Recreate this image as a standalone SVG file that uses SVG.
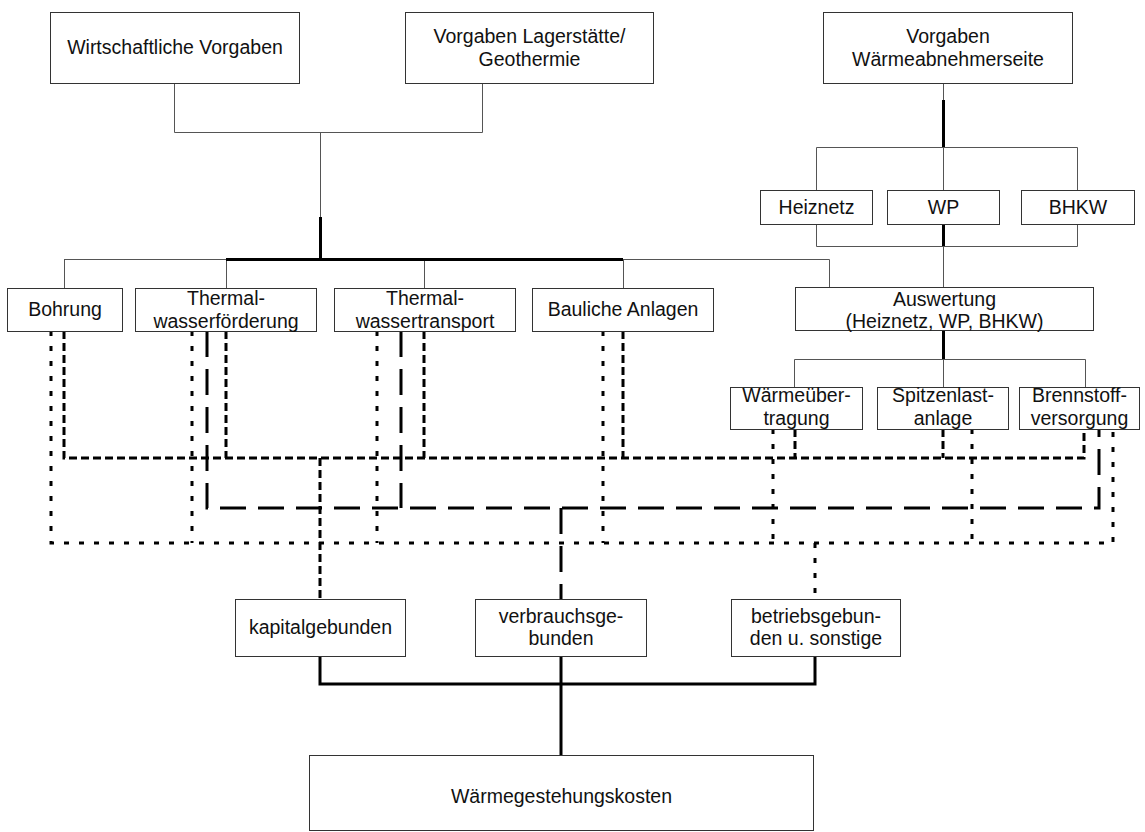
<svg xmlns="http://www.w3.org/2000/svg" width="1145" height="832" viewBox="0 0 1145 832">
<style>
.box{fill:#fff;stroke:#333;stroke-width:1}
text{font-family:"Liberation Sans",Arial,sans-serif;font-size:19.5px;fill:#111;text-anchor:middle}
.tn{fill:none;stroke:#555;stroke-width:1}
.tk{fill:none;stroke:#000;stroke-width:3}
.kd{fill:none;stroke:#000;stroke-width:3;stroke-dasharray:8 4}
.vd{fill:none;stroke:#000;stroke-width:3;stroke-dasharray:26 12}
.bd{fill:none;stroke:#000;stroke-width:3;stroke-dasharray:5 10}
</style>
<rect width="1145" height="832" fill="#fff"/>
<g id="connectors">
<path class="tn" d="M174.5,83 V132.5 H482.5 V83 M320.5,132 V217 M64.5,259.5 H226 M623,259.5 H829.5 V287 M64.5,259 V288 M226.5,259 V288 M424.5,259 V288 M623.5,259 V288"/>
<path class="tn" d="M943.5,83 V100 M816.5,190 V147.5 H1077.5 V190 M943.5,147 V190 M816.5,224 V246.5 H1077.5 V224 M943.5,246 V287 M794.5,387 V359.5 H1085.5 V387 M943.5,359 V387"/>
<path class="tk" d="M320.5,217 V259 M226,259.5 H623 M943.5,100 V147 M943.5,224 V246 M943.5,316 V359"/>
<path class="tk" d="M320,656 V684 H815 V656 M561,656 V755"/>
<path class="kd" d="M64,331 V458 H1084 V429 M226,331 V458 M424,331 V458 M623,331 V458 M795,429 V458 M943,429 V458 M320,458 V599"/>
<path class="vd" d="M207,331 V508 H1099 V429 M401,331 V508 M561,508 V599"/>
<path class="bd" d="M51,331 V543 H1113 V429 M192,331 V543 M377,331 V543 M603,331 V543 M773,429 V543 M972,429 V543 M815,543 V599"/>
</g>
<g id="n-wirtschaft"><rect class="box" x="50.5" y="12.5" width="249" height="71"/><text x="175" y="54">Wirtschaftliche Vorgaben</text></g>
<g id="n-lager"><rect class="box" x="405.5" y="12.5" width="248" height="71"/><text x="529.5" y="43">Vorgaben Lagerstätte/</text><text x="529.5" y="66">Geothermie</text></g>
<g id="n-abnehmer"><rect class="box" x="823.5" y="12.5" width="249" height="71"/><text x="948" y="43">Vorgaben</text><text x="948" y="66">Wärmeabnehmerseite</text></g>
<g id="n-heiznetz"><rect class="box" x="760.5" y="190.5" width="112" height="34"/><text x="816.5" y="214">Heiznetz</text></g>
<g id="n-wp"><rect class="box" x="887.5" y="190.5" width="112" height="34"/><text x="943.5" y="214">WP</text></g>
<g id="n-bhkw"><rect class="box" x="1021.5" y="190.5" width="113" height="34"/><text x="1078" y="214">BHKW</text></g>
<g id="n-bohrung"><rect class="box" x="7.5" y="288.5" width="115" height="43"/><text x="65" y="316">Bohrung</text></g>
<g id="n-foerderung"><rect class="box" x="135.5" y="288.5" width="181" height="43"/><text x="226" y="305">Thermal-</text><text x="226" y="328">wasserförderung</text></g>
<g id="n-transport"><rect class="box" x="334.5" y="288.5" width="181" height="43"/><text x="425" y="305">Thermal-</text><text x="425" y="328">wassertransport</text></g>
<g id="n-bauliche"><rect class="box" x="532.5" y="288.5" width="181" height="43"/><text x="623" y="316">Bauliche Anlagen</text></g>
<g id="n-auswertung"><rect class="box" x="795.5" y="287.5" width="298" height="43"/><text x="944.5" y="306">Auswertung</text><text x="944.5" y="328">(Heiznetz, WP, BHKW)</text></g>
<g id="n-waermeueber"><rect class="box" x="730.5" y="387.5" width="132" height="42"/><text x="796.5" y="402">Wärmeüber-</text><text x="796.5" y="425">tragung</text></g>
<g id="n-spitzenlast"><rect class="box" x="877.5" y="387.5" width="131" height="42"/><text x="943" y="402">Spitzenlast-</text><text x="943" y="425">anlage</text></g>
<g id="n-brennstoff"><rect class="box" x="1019.5" y="387.5" width="120" height="42"/><text x="1079.5" y="402">Brennstoff-</text><text x="1079.5" y="425">versorgung</text></g>
<g id="n-kapital"><rect class="box" x="235.5" y="599.5" width="170" height="57"/><text x="320.5" y="634">kapitalgebunden</text></g>
<g id="n-verbrauch"><rect class="box" x="475.5" y="599.5" width="171" height="57"/><text x="561" y="623">verbrauchsge-</text><text x="561" y="645">bunden</text></g>
<g id="n-betrieb"><rect class="box" x="731.5" y="599.5" width="169" height="57"/><text x="816" y="623">betriebsgebun-</text><text x="816" y="645">den u. sonstige</text></g>
<g id="n-kosten"><rect class="box" x="309.5" y="755.5" width="504" height="75"/><text x="561.5" y="803">Wärmegestehungskosten</text></g>
</svg>
